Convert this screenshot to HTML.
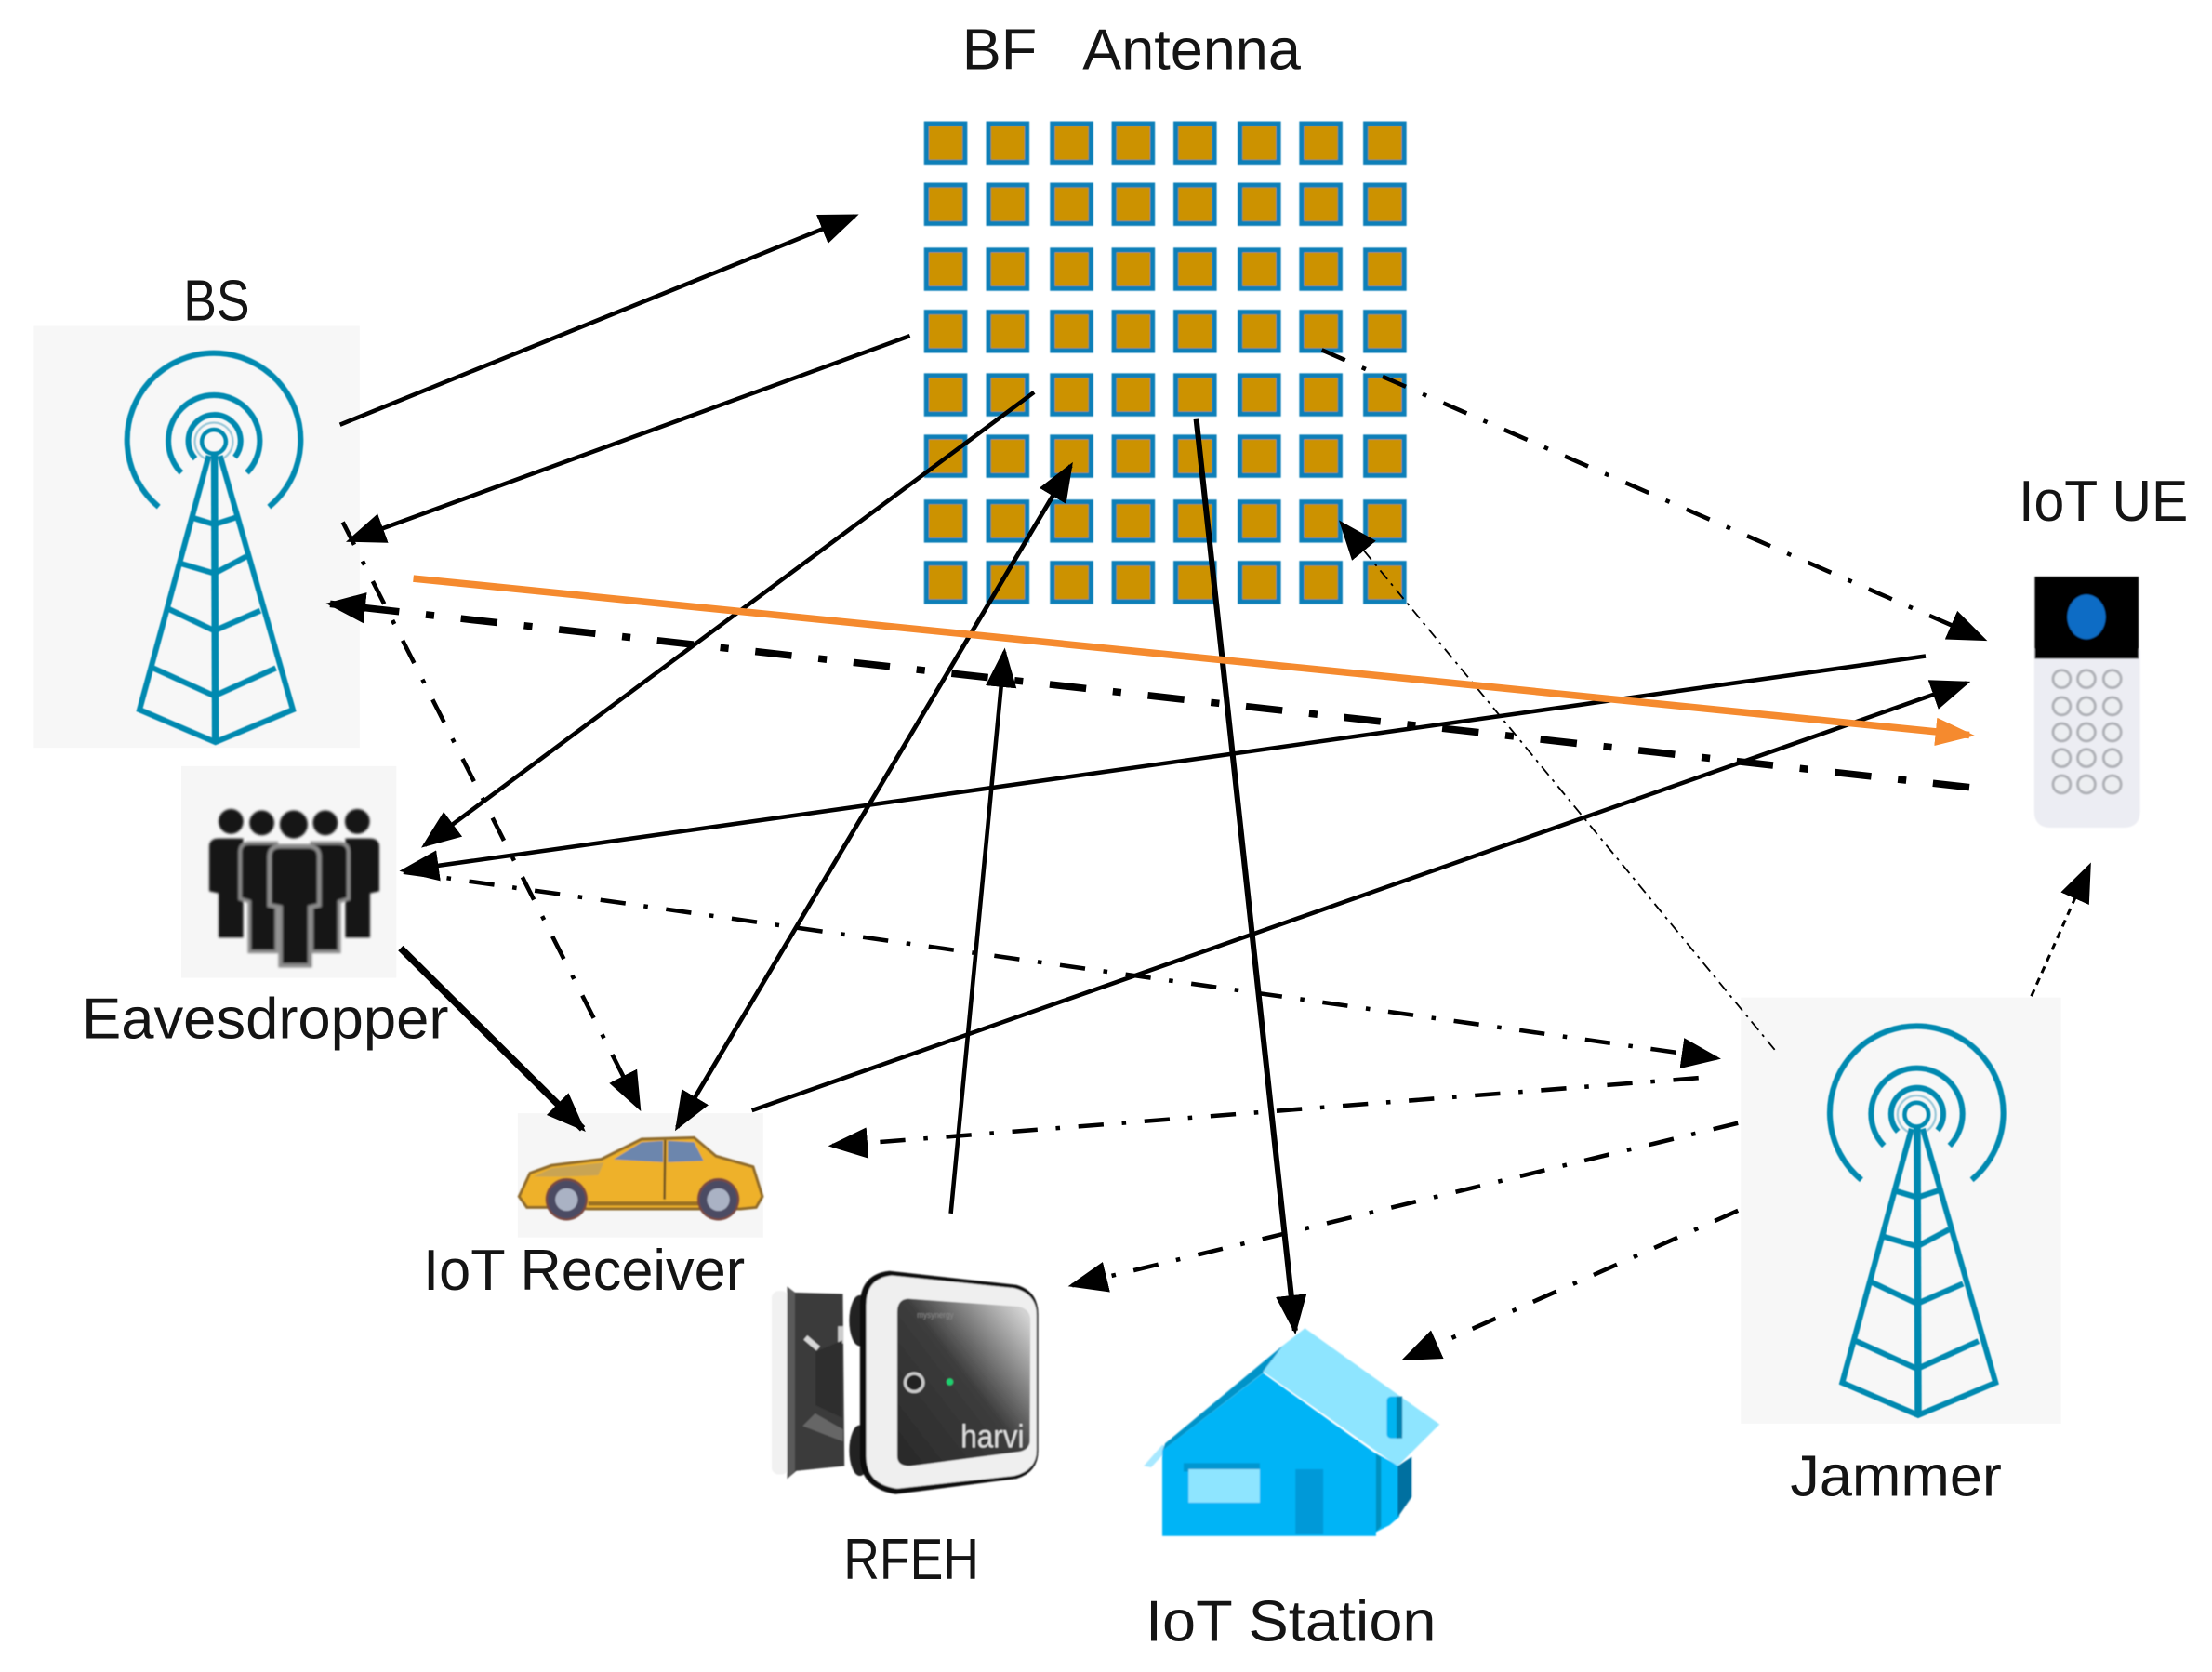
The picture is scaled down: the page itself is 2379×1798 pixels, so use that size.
<!DOCTYPE html>
<html><head><meta charset="utf-8"><title>Diagram</title>
<style>html,body{margin:0;padding:0;background:#fff}svg{display:block}text{font-family:"Liberation Sans",sans-serif;fill:#141414;font-size:41px}</style></head>
<body>
<svg xmlns="http://www.w3.org/2000/svg" width="2379" height="1798" viewBox="0 0 1568 1185">
<defs>
<marker id="a" markerUnits="userSpaceOnUse" markerWidth="28" markerHeight="24" viewBox="0 0 28 24" refX="25" refY="12" orient="auto"><path d="M0 1 L28 12 L0 23 Z" fill="#000"/></marker>
<marker id="as" markerUnits="userSpaceOnUse" markerWidth="28" markerHeight="24" viewBox="0 0 28 24" refX="3" refY="12" orient="auto"><path d="M28 1 L0 12 L28 23 Z" fill="#000"/></marker>
<marker id="o" markerUnits="userSpaceOnUse" markerWidth="28" markerHeight="22" viewBox="0 0 28 22" refX="24" refY="11" orient="auto"><path d="M0 1 L28 11 L0 21 Z" fill="#f58a2e"/></marker>
<filter id="b1" x="-10%" y="-10%" width="120%" height="120%"><feGaussianBlur stdDeviation=".9"/></filter>
<filter id="b2" x="-10%" y="-10%" width="120%" height="120%"><feGaussianBlur stdDeviation=".6"/></filter>
<filter id="b3" x="-5%" y="-5%" width="110%" height="110%"><feGaussianBlur stdDeviation=".35"/></filter>
<linearGradient id="pan" x1=".1" y1=".9" x2=".95" y2=".08"><stop offset="0" stop-color="#2c2c2c"/><stop offset=".5" stop-color="#3c3c3c"/><stop offset="1" stop-color="#d2d2d2"/></linearGradient>
<g id="tower" fill="none" stroke="#0589b0" stroke-width="4">
<path d="M112.5 359.2 A61.5 61.5 0 1 1 190.7 359.2"/>
<path d="M128.5 335 A32.4 32.4 0 1 1 175 335"/>
<path d="M138.4 325 A18.5 18.5 0 1 1 166.5 324"/>
<circle cx="151.6" cy="313" r="13.5" stroke="#9cc9d9" stroke-width="1.5"/>
<circle cx="151.6" cy="313" r="8.5" stroke-width="3"/>
<path d="M148 323 L98.9 503 L152.7 526 L207.6 503 L156 323"/>
<path d="M152 321 L152.7 526" stroke-width="5"/>
<path d="M136.2 366.9 L152 371.7 L168 366.5"/>
<path d="M126.3 398.8 L152 406.4 L174.6 394.4"/>
<path d="M119.7 431.7 L152 447 L184.5 432.8"/>
<path d="M108.7 473.5 L152 493.2 L195.5 473.5"/>
</g>
<rect id="sq" width="27.3" height="27.2" fill="#cc9200" stroke="#0b7fb8" stroke-width="3.4" x="0" y="0"/>
</defs>

<rect width="1568" height="1185" fill="#fff"/>

<!-- grey image backgrounds -->
<rect x="24" y="231" width="231" height="299" fill="#f7f7f7"/>
<rect x="128.5" y="543" width="152.5" height="150" fill="#f6f6f6"/>
<rect x="1234" y="707" width="227" height="302" fill="#f7f7f7"/>
<rect x="367" y="789" width="174" height="88" fill="#f6f6f6"/>

<!-- antenna array -->
<g transform="translate(655 86)" filter="url(#b3)">
<g id="row">
<use href="#sq" x="1.7" y="1.7"/><use href="#sq" x="45.7" y="1.7"/><use href="#sq" x="91" y="1.7"/><use href="#sq" x="134.7" y="1.7"/><use href="#sq" x="178.5" y="1.7"/><use href="#sq" x="224" y="1.7"/><use href="#sq" x="267.7" y="1.7"/><use href="#sq" x="313" y="1.7"/>
</g>
<use href="#row" y="43.5"/><use href="#row" y="89.5"/><use href="#row" y="133.5"/><use href="#row" y="178.5"/><use href="#row" y="222"/><use href="#row" y="268"/><use href="#row" y="311.5"/>
</g>

<!-- towers -->
<g filter="url(#b3)"><use href="#tower"/></g>
<g filter="url(#b3)"><use href="#tower" transform="translate(1207 477)"/></g>

<!-- eavesdropper -->
<g filter="url(#b1)" fill="#141414">
<circle cx="163.7" cy="582.2" r="8.8"/><circle cx="185.6" cy="583.2" r="8.8"/><circle cx="230.6" cy="583.2" r="8.8"/><circle cx="253.3" cy="582.2" r="8.8"/><circle cx="208.2" cy="584.3" r="9.9"/>
<path d="M148.3 600 Q148.3 594.2 155 594.2 L172.4 594.2 L172.4 664.5 L154.9 664.5 L154.9 633 L148.3 631.6Z"/>
<path d="M268.9 600 Q268.9 594.2 262 594.2 L244.8 594.2 L244.8 664.5 L262.3 664.5 L262.3 633 L268.9 631.6Z"/>
<path d="M170.2 604 Q170.2 597.5 177 597.5 L196 597.5 L196 674.4 L176.8 674.4 L176.8 639 L170.2 637Z" stroke="#8c8c8c" stroke-width="2.4"/>
<path d="M247 604 Q247 597.5 240 597.5 L221 597.5 L221 674.4 L240.4 674.4 L240.4 639 L247 637Z" stroke="#8c8c8c" stroke-width="2.4"/>
<path d="M191 607 Q191 599.7 199 599.7 L218 599.7 Q226.3 599.7 226.3 607 L226.3 641.5 L219.7 643 L219.7 684.3 L198.8 684.3 L198.8 643 L191 641.5Z" stroke="#8c8c8c" stroke-width="3"/>
</g>

<!-- car -->
<g filter="url(#b2)">
<path d="M368 848 L375.7 831.5 L391 826 L426.2 821.6 L454.8 807.4 L492 806.3 L507.5 819.4 L533.8 827 L540.4 848 L536 855.7 L525 856.8 L417.4 856.8 L388.9 855.7 L373.5 855.7Z" fill="#eeb12a" stroke="#8f6a2a" stroke-width="2"/>
<path d="M378 834 L391 828 L428 824 L424 833 L400 834Z" fill="#c9a453"/>
<path d="M417 853 L496 853" stroke="#9a7020" stroke-width="3"/>
<path d="M435 821.6 L454.8 809.6 L470 808.5 L470 823.8Z" fill="#6c86ad"/>
<path d="M473.4 808.5 L492 809.6 L498.7 822.7 L473.4 823.8Z" fill="#6c86ad"/>
<path d="M471.5 808 L471 850" stroke="#6a5020" stroke-width="1.6"/>
<circle cx="401.6" cy="850" r="15" fill="#7a4a40"/><circle cx="509.2" cy="850" r="15" fill="#7a4a40"/>
<circle cx="401.6" cy="850.2" r="13.4" fill="#4c4c64"/><circle cx="401.6" cy="850.2" r="8" fill="#aab2c4"/>
<circle cx="509.2" cy="850.2" r="13.4" fill="#4c4c64"/><circle cx="509.2" cy="850.2" r="8" fill="#aab2c4"/>
</g>

<!-- RFEH -->
<g filter="url(#b2)">
<rect x="547" y="915" width="12" height="130" rx="5" fill="#f1f1f1"/>
<path d="M558 911.8 L563.5 916 L597.5 917 L598.6 1039 L564.5 1042.5 L558 1048Z" fill="#3a3a3a"/>
<path d="M558 912 L563.5 916 L563.5 1042.5 L558 1048Z" fill="#5a5a5a"/>
<path d="M571 948 L580 955.7" stroke="#d8d8d8" stroke-width="4"/>
<path d="M569 1010.6 L577.8 1001.8 L597.5 1013 L597.5 1021.6Z" fill="#666"/>
<rect x="594" y="940" width="4" height="12" fill="#ccc"/>
<path d="M578 958 L597 950 L597 1005 L578 996Z" fill="#2e2e2e"/>
<ellipse cx="609.5" cy="936" rx="7.5" ry="18" fill="#222"/><ellipse cx="609.5" cy="1028" rx="7.5" ry="18" fill="#222"/>
<path d="M630.5 900.8 L720.5 910.7 Q735.9 915 735.9 931.5 L735.9 1028.2 Q735.9 1043.6 720.5 1048 L634.9 1059 Q609.6 1054.6 609.6 1032.6 L609.6 925 Q609.6 903 630.5 900.8Z" fill="#0c0c0c"/>
<path d="M632 904 L719 913 Q734.8 917 734.8 932 L734.8 1028 Q734.8 1042 719 1046 L636 1055 Q614 1052 614 1032 L614 925 Q614 906 632 904Z" fill="#efefef"/>
<path d="M643.7 920.5 L722 926 Q730.4 928 730.4 936 L730 1022 Q729 1028 722 1029 L645 1039 Q636 1039 636 1032 L636 930 Q636 921 643.7 920.5Z" fill="url(#pan)"/>
<circle cx="648" cy="979.9" r="6.4" fill="#222" stroke="#c9c9c9" stroke-width="2.2"/>
<circle cx="673.3" cy="979.4" r="2.4" fill="#1fd070"/>
<text x="650" y="934" textLength="26" lengthAdjust="spacingAndGlyphs" style="font-size:6px;fill:#8a8a8a">mysynergy</text>
<text x="681" y="1026" textLength="45" lengthAdjust="spacingAndGlyphs" style="font-size:23px;fill:#dedede">harvi</text>
</g>

<!-- house -->
<g filter="url(#b2)">
<path d="M975 1030 L992 1039 L992 1075 L985 1081 L975 1086Z" fill="#00b8f8"/>
<path d="M975 1030 L979 1033 L979 1082 L975 1086Z" fill="#0090c0"/>
<path d="M990.8 1039 L1000.7 1032.5 L1000.7 1061 L990.8 1075.4Z" fill="#0070a0"/>
<path d="M810.7 1039 L824 1024 L828 1027 L816 1040Z" fill="#a8e8ff"/>
<path d="M824 1028 L826 1023 L909.5 953.5 L895.3 973Z" fill="#0093c8"/>
<path d="M823.9 1028 L895.3 973.2 L975.4 1030.4 L975.4 1088.6 L823.9 1088.6 Z" fill="#00b4f6"/>
<path d="M925 941.4 L1020.5 1009.5 L990.8 1039.1 L895.3 972.1 L909.5 953.5Z" fill="#8ee5ff"/>
<rect x="983" y="989.7" width="11" height="29.7" rx="3" fill="#00b4f0"/>
<rect x="990" y="989.7" width="4" height="29.7" fill="#0083b0"/>
<rect x="839" y="1037" width="54" height="6" fill="#0096d0"/>
<rect x="842.5" y="1041.3" width="50.5" height="23.7" fill="#8ee5ff"/>
<rect x="918.3" y="1041.3" width="19.7" height="46.2" fill="#0099d8"/>
</g>

<!-- keypad -->
<g filter="url(#b2)">
<path d="M1442 460 L1517 460 L1517 575 Q1517 586.6 1505 586.6 L1454 586.6 Q1442 586.6 1442 575Z" fill="#ecedf3"/>
<rect x="1442.4" y="408.7" width="73.6" height="58.2" fill="#060606"/>
<ellipse cx="1479" cy="437.2" rx="13.6" ry="15.8" fill="#0b6cc5"/>
<g fill="#eceef1" stroke="#b0b2b8" stroke-width="2">
<circle cx="1461.5" cy="481.2" r="6.2"/><circle cx="1479" cy="481.2" r="6.2"/><circle cx="1497.3" cy="481.2" r="6.2"/>
<circle cx="1461.5" cy="500.5" r="6.2"/><circle cx="1479" cy="500.5" r="6.2"/><circle cx="1497.3" cy="500.5" r="6.2"/>
<circle cx="1461.5" cy="519" r="6.2"/><circle cx="1479" cy="519" r="6.2"/><circle cx="1497.3" cy="519" r="6.2"/>
<circle cx="1461.5" cy="537.2" r="6.2"/><circle cx="1479" cy="537.2" r="6.2"/><circle cx="1497.3" cy="537.2" r="6.2"/>
<circle cx="1461.5" cy="555.9" r="6.2"/><circle cx="1479" cy="555.9" r="6.2"/><circle cx="1497.3" cy="555.9" r="6.2"/>
</g>
</g>

<!-- connectors -->
<g fill="none" stroke="#000" stroke-width="3">
<line x1="241" y1="301" x2="606" y2="153" marker-end="url(#a)"/>
<line x1="645" y1="238" x2="248" y2="383" marker-end="url(#a)"/>
<line x1="733" y1="278" x2="301" y2="599" marker-end="url(#a)"/>
<line x1="1365" y1="465" x2="286" y2="617" marker-end="url(#a)"/>
<line x1="284" y1="672" x2="413" y2="800" stroke-width="5" marker-end="url(#a)"/>
<line x1="674" y1="860" x2="712" y2="462" marker-end="url(#a)"/>
<line x1="480" y1="799" x2="759" y2="330" stroke-width="3.2" marker-start="url(#as)" marker-end="url(#a)"/>
<line x1="533" y1="787" x2="1394" y2="484" marker-end="url(#a)"/>
<line x1="848" y1="297" x2="918" y2="943" stroke-width="4" marker-end="url(#a)"/>

<line x1="243" y1="370" x2="453" y2="785" stroke-dasharray="18 13 3 13" marker-end="url(#a)"/>
<line x1="286" y1="618" x2="1217" y2="750" stroke-dasharray="18 13 3 13" marker-end="url(#a)"/>
<line x1="1204" y1="764" x2="590" y2="812" stroke-dasharray="18 13 3 13" marker-end="url(#a)"/>
<line x1="1232" y1="796" x2="760" y2="911" stroke-dasharray="18 13 3 13" marker-end="url(#a)"/>
<line x1="1232" y1="858" x2="996" y2="963" stroke-dasharray="18 13 3 13" marker-end="url(#a)"/>
<line x1="937" y1="248" x2="1406" y2="453" stroke-dasharray="18 13 3 13" marker-end="url(#a)"/>
<line x1="1396" y1="558" x2="234" y2="428" stroke-width="5" stroke-dasharray="26 19 6 19" marker-end="url(#a)"/>
<line x1="1440" y1="706" x2="1481" y2="614" stroke-width="2" stroke-dasharray="5 4" marker-end="url(#a)"/>
<line x1="1258" y1="744" x2="951" y2="371" stroke-width="1.2" stroke-dasharray="8 4 2 4" marker-end="url(#a)"/>
<line x1="293" y1="410" x2="1396" y2="521" stroke="#f58a2e" stroke-width="5" marker-end="url(#o)"/>
</g>

<!-- labels -->
<text x="682" y="49" textLength="240" lengthAdjust="spacingAndGlyphs" xml:space="preserve">BF   Antenna</text>
<text x="130" y="227" textLength="47" lengthAdjust="spacingAndGlyphs">BS</text>
<text x="1431" y="369" textLength="120" lengthAdjust="spacingAndGlyphs">IoT UE</text>
<text x="58" y="736" textLength="260" lengthAdjust="spacingAndGlyphs">Eavesdropper</text>
<text x="300" y="914" textLength="228" lengthAdjust="spacingAndGlyphs">IoT Receiver</text>
<text x="598" y="1119" textLength="96" lengthAdjust="spacingAndGlyphs">RFEH</text>
<text x="812" y="1163" textLength="206" lengthAdjust="spacingAndGlyphs">IoT Station</text>
<text x="1269" y="1060" textLength="150" lengthAdjust="spacingAndGlyphs">Jammer</text>
</svg>
</body></html>
